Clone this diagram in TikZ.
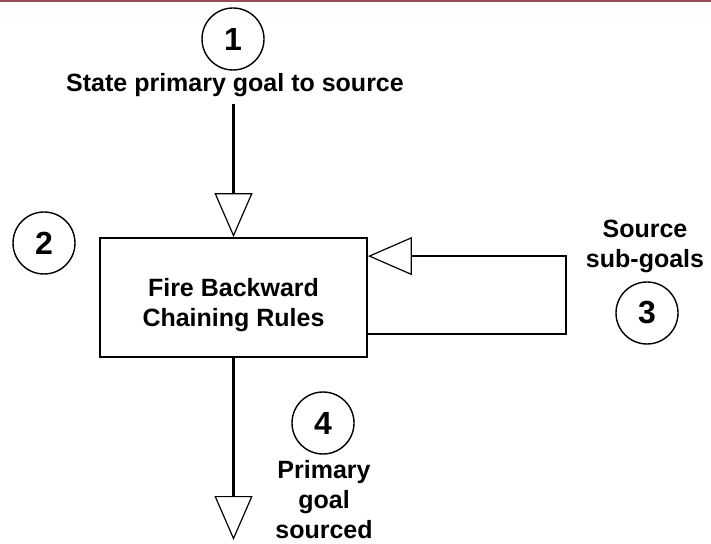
\documentclass[tikz,border=0pt]{standalone}
\usepackage{fontspec}
\setmainfont{Liberation Sans}
\usetikzlibrary{arrows.meta}
\definecolor{topline}{RGB}{155,75,85}

\begin{document}
\begin{tikzpicture}[x=0.5pt,y=-0.5pt,
    every node/.style={font=\bfseries\fontsize{12.5}{15}\selectfont},
    stepno/.style={draw,circle,line width=0.7pt,minimum size=31pt,inner sep=0pt,
      font=\bfseries\fontsize{16}{18}\selectfont},
    rulebox/.style={draw,line width=0.9pt,minimum width=133.5pt,minimum height=59.5pt,align=center},
    flow/.style={line width=1.3pt,-{Triangle[open,length=22pt,width=19pt,line width=0.6pt]}}]
  \useasboundingbox (0,0) rectangle (711,544);

  % Rule at the top
  \fill[topline] (0,0) rectangle (711,2.5);

  % Main box and labels
  \node[rulebox] (rules) at (233.5,297.5) {\rule{0pt}{17pt}Fire Backward\\Chaining Rules};
  \node (goal) at (235,85) {State primary goal to source};
  \node[align=center] (subgoals) at (645,246) {Source\\sub-goals};
  \node[align=center] (sourced) at (324,500) {Primary\\goal\\sourced};

  % Step numbers
  \node[stepno] (s1) at (233,39) {1};
  \node[stepno] (s2) at (44,243) {2};
  \node[stepno] (s3) at (647,313) {3};
  \node[stepno] (s4) at (323,423) {4};

  % Loop and end points
  \coordinate (fbout) at ([yshift=12pt]rules.south east);
  \coordinate (fbin) at ([yshift=-9.5pt]rules.north east);
  \coordinate (sink) at (233.5,540);

  % Connectors
  \draw[flow] (goal.south -| rules.north) -- (rules.north);
  \draw[flow] (fbout) -- ++(198,0) |- (fbin);
  \draw[flow] (rules.south) -- (sink);
\end{tikzpicture}
\end{document}
